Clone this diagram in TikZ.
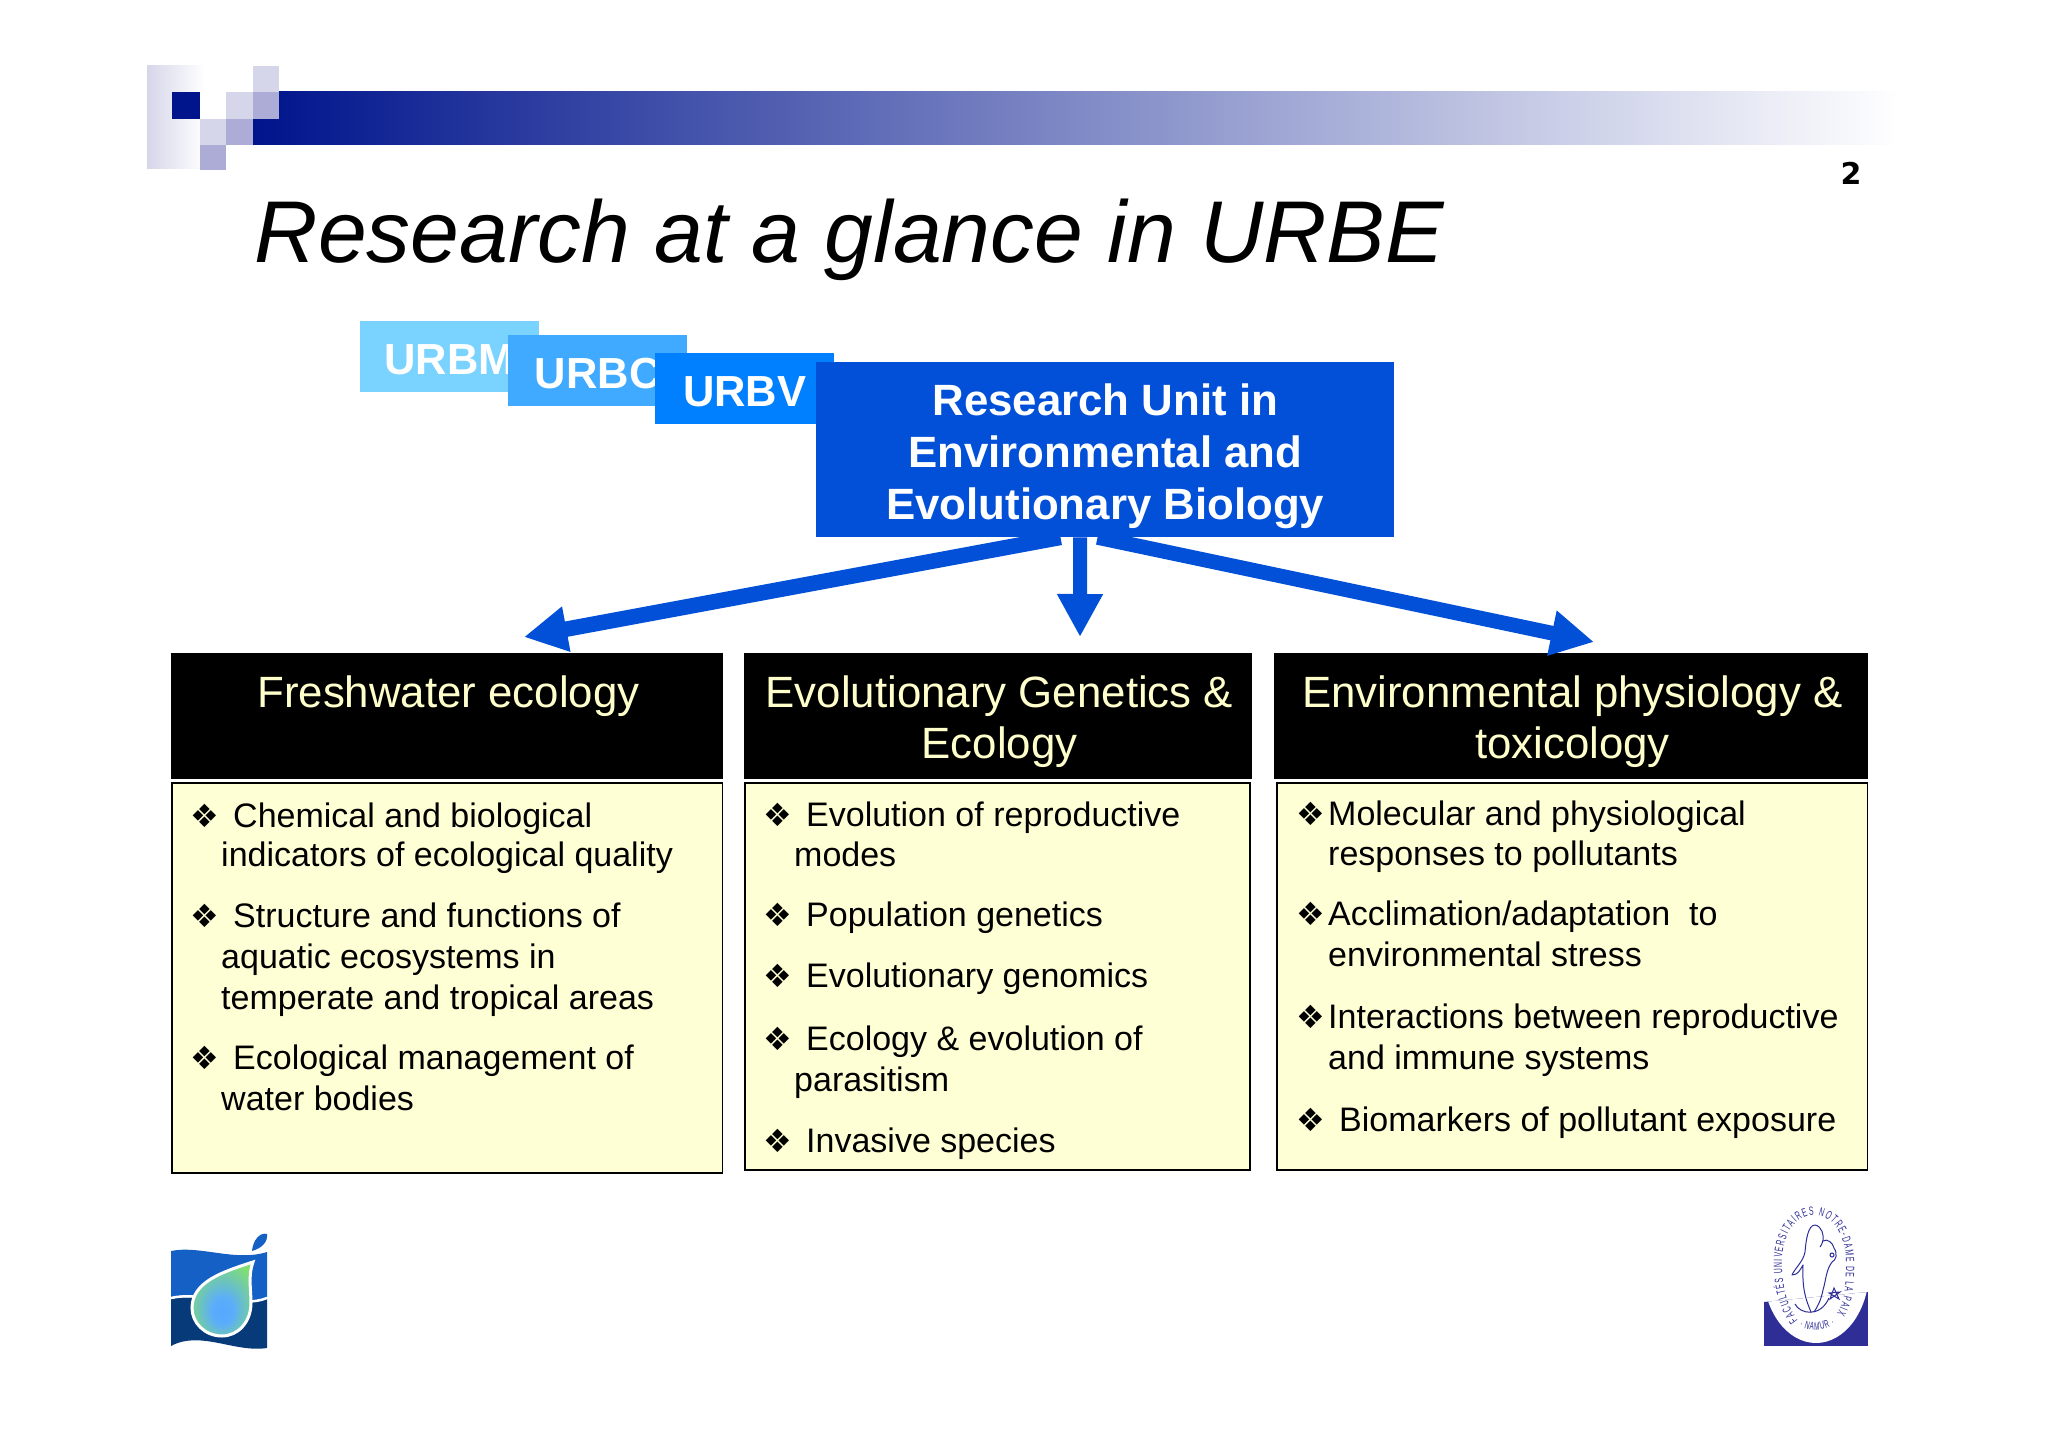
\documentclass[tikz,border=0pt]{standalone}
\usepackage{fontspec}
\setmainfont{Liberation Sans}
\newfontfamily\dejavu{DejaVu Sans}
\newfontfamily\sealfont[FakeStretch=0.58]{Liberation Sans}
\usepackage{tikz}
\usetikzlibrary{positioning, arrows.meta, decorations.text}
\definecolor{barblue}{RGB}{0,20,140}
\definecolor{palesq}{RGB}{214,214,234}
\definecolor{midsq}{RGB}{172,172,214}
\definecolor{urbmblue}{RGB}{122,211,255}
\definecolor{urbcblue}{RGB}{63,170,255}
\definecolor{urbvblue}{RGB}{0,128,255}
\definecolor{unitblue}{RGB}{2,80,216}
\definecolor{headcream}{RGB}{255,255,204}
\definecolor{listcream}{RGB}{255,255,214}
\definecolor{flagblue}{RGB}{21,96,196}
\definecolor{flagdark}{RGB}{7,58,120}
\definecolor{sealblue}{RGB}{46,46,150}
\pgfdeclareradialshading{dropshade}{\pgfpoint{0bp}{-10bp}}{rgb(0bp)=(0.33,0.66,1); rgb(9bp)=(0.36,0.68,0.98); rgb(30bp)=(0.5,0.87,0.45); rgb(50bp)=(0.5,0.87,0.45)}
\newcommand{\bul}[1]{\makebox[#1pt][l]{\hspace*{-1pt}\dejavu\fontsize{32}{32}\selectfont ❖}}
\newcommand{\hang}[1]{\hspace*{#1pt}}
\newcommand{\headtop}{\rule{0pt}{42pt}\hspace*{2.5pt}}
\newcommand{\headbot}{\rule[-9pt]{0pt}{0pt}\hspace*{2.5pt}}
\tikzset{
    urbbox/.style={anchor=north west, minimum width=179pt, minimum height=71pt, inner sep=0pt,
        text=white, text height=36pt, text depth=0pt, font=\fontsize{43.5}{43.5}\selectfont\bfseries},
    headbox/.style={anchor=north west, fill=black, text=headcream, minimum height=126pt, inner sep=0pt,
        align=center, font=\fontsize{43.8}{51}\selectfont},
    listbox/.style={anchor=north west, draw=black, line width=1.5pt, fill=listcream, inner sep=0pt},
    itemtext/.style={anchor=base west, inner sep=0pt, align=left, font=\fontsize{34}{41}\selectfont},
    bigarrow/.style={draw=unitblue, line width=#1, -{Triangle[length=43pt, width=43pt, fill=unitblue]}},
}
\begin{document}
\begin{tikzpicture}[x=1pt, y=-1pt]
    \useasboundingbox (0,0) rectangle (2048,1447);
    \fill[white] (0,0) rectangle (2048,1447);

    % Title band and squares
    \fill[left color=barblue, right color=white] (253,92) rectangle (1900,145);
    \fill[left color=palesq, right color=white] (147,66) rectangle (205,169);
    \fill[white] (200,92) rectangle (253,119);
    \fill[barblue] (172,92) rectangle (200,119);
    \fill[palesq] (226,92) rectangle (253,119);
    \fill[palesq] (253,66) rectangle (279,92);
    \fill[midsq] (253,92) rectangle (279,119);
    \fill[palesq] (200,119) rectangle (226,145);
    \fill[midsq] (226,119) rectangle (253,145);
    \fill[midsq] (200,145) rectangle (226,170);

    \node[anchor=base, inner sep=0pt, font=\dejavu\bfseries\fontsize{30}{30}\selectfont] (pagenum) at (1851,185) {2};
    \node[anchor=base west, inner sep=0pt, font=\fontsize{87.7}{88}\selectfont\itshape] (title) at (254.5,263) {Research at a glance in URBE};

    % Units
    \node[urbbox, fill=urbmblue] (urbm) at (360,321) {URBM};
    \node[urbbox, fill=urbcblue] (urbc) at (508,335) {URBC};
    \node[urbbox, fill=urbvblue] (urbv) at (655,353) {URBV};
    \node[anchor=north west, fill=unitblue, text=white, minimum width=578pt, minimum height=175pt, inner sep=0pt,
        align=center, font=\fontsize{43.8}{52}\selectfont\bfseries] (unit) at (816,362)
        {\rule{0pt}{44pt}Research Unit in\\Environmental and\\Evolutionary Biology};

    % Column heads
    \node[headbox, minimum width=552pt] (freshhead) at (171,653) {\headtop Freshwater ecology\\\headbot\mbox{}};
    \node[headbox, minimum width=508pt] (evolhead) at (744,653) {\headtop Evolutionary Genetics \&\\\headbot Ecology};
    \node[headbox, minimum width=594pt] (envhead) at (1274,653) {\headtop Environmental physiology \&\\\headbot toxicology};

    % Arrows
    \coordinate (freshtip) at (524,637);
    \coordinate (evoltip) at (1080,637);
    \coordinate (envtip) at (1594,642);
    \draw[bigarrow=15.5pt] (unit.243.3) -- (freshtip);
    \draw[bigarrow=14pt] (unit.254) -- (evoltip);
    \draw[bigarrow=14.7pt] (unit.265.4) -- (envtip);

    % Lists
    \node[listbox, minimum width=550.5pt, minimum height=390pt] (freshlist) at (171,782) {};
    \node[listbox, minimum width=505pt, minimum height=387pt] (evollist) at (744,782) {};
    \node[listbox, minimum width=590.5pt, minimum height=387pt] (envlist) at (1276,782) {};

    \node[itemtext] (freshone) at (191,866) {\bul{42}Chemical and biological\\[-2pt]\hang{30}indicators of ecological quality};
    \node[itemtext] (freshtwo) at (191,1009) {\bul{42}Structure and functions of\\\hang{30}aquatic ecosystems in\\\hang{30}temperate and tropical areas};
    \node[itemtext] (freshthree) at (191,1110) {\bul{42}Ecological management of\\\hang{30}water bodies};

    \node[itemtext] (evolone) at (764,866) {\bul{42}Evolution of reproductive\\[-1.5pt]\hang{30}modes};
    \node[itemtext] (evoltwo) at (764,926) {\bul{42}Population genetics};
    \node[itemtext] (evolthree) at (764,987) {\bul{42}Evolutionary genomics};
    \node[itemtext] (evolfour) at (764,1091) {\bul{42}Ecology \& evolution of\\\hang{30}parasitism};
    \node[itemtext] (evolfive) at (764,1152) {\bul{42}Invasive species};

    \node[itemtext] (envone) at (1297,865) {\bul{31}Molecular and physiological\\[-1.5pt]\hang{31}responses to pollutants};
    \node[itemtext] (envtwo) at (1297,966) {\bul{31}Acclimation/adaptation\ \ to\\\hang{31}environmental stress};
    \node[itemtext] (envthree) at (1297,1069) {\bul{31}Interactions between reproductive\\\hang{31}and immune systems};
    \node[itemtext] (envfour) at (1297,1131) {\bul{42}Biomarkers of pollutant exposure};

    % Left logo
    \fill[flagblue] (171,1251) .. controls (200,1245) and (235,1262) .. (267,1252) -- (267,1297)
        .. controls (240,1308) and (200,1290) .. (171,1297) -- cycle;
    \fill[flagdark] (171,1299) .. controls (200,1292) and (240,1310) .. (267,1299) -- (267,1348)
        .. controls (235,1353) and (200,1330) .. (171,1346) -- cycle;
    \draw[white, line width=2.5pt] (171,1298) .. controls (200,1291) and (240,1309) .. (267,1298);
    \path[draw=white, line width=3pt, shading=dropshade]
        (253,1262) .. controls (248,1275) and (251,1290) .. (251,1303)
        .. controls (251,1322) and (238,1336) .. (222,1336)
        .. controls (205,1336) and (192,1323) .. (192,1308)
        .. controls (192,1282) and (222,1272) .. (253,1262) -- cycle;
    \fill[flagblue] (252,1251) .. controls (253,1240) and (260,1232) .. (267,1234)
        .. controls (268,1242) and (262,1248) .. (252,1251) -- cycle;

    % Right logo
    \begin{scope}
        \clip (1764,1302) -- (1868,1292) -- (1868,1346) -- (1764,1346) -- cycle;
        \fill[sealblue] (1764,1280) rectangle (1868,1346);
        \fill[white] (1816,1270) ellipse (53 and 73);
    \end{scope}
    \path[decorate, decoration={text along path, text align=fit to path,
        text={|\sealfont\fontsize{12}{12}\selectfont\color{sealblue}|FACULTÉS UNIVERSITAIRES NOTRE-DAME DE LA PAIX}}]
        (1798,1320) .. controls (1786,1305) and (1782,1285) .. (1782,1262)
        .. controls (1782,1235) and (1796,1215) .. (1814,1215)
        .. controls (1832,1215) and (1846,1235) .. (1846,1262)
        .. controls (1846,1285) and (1845,1300) .. (1837,1314);
    \path[decorate, decoration={text along path, text align=fit to path,
        text={|\sealfont\fontsize{11}{11}\selectfont\color{sealblue}|· NAMUR ·}}]
        (1799,1326) .. controls (1810,1332) and (1824,1332) .. (1835,1324);
    \draw[sealblue, line width=1pt, line join=round] (1811,1312) .. controls (1806,1300) and (1802,1290) .. (1803,1265)
        .. controls (1800,1270) and (1798,1275) .. (1792,1275) .. controls (1795,1268) and (1803,1262) .. (1805,1252)
        .. controls (1806,1240) and (1808,1225) .. (1815,1225) .. controls (1822,1226) and (1824,1236) .. (1823,1240)
        .. controls (1822,1244) and (1821,1246) .. (1820,1247);
    \draw[sealblue, line width=1pt, line join=round] (1823,1241) .. controls (1827,1238) and (1833,1243) .. (1834,1248)
        .. controls (1838,1254) and (1836,1260) .. (1832,1262) .. controls (1826,1270) and (1826,1280) .. (1823,1290)
        .. controls (1821,1300) and (1818,1306) .. (1814,1312);
    \draw[sealblue, line width=1pt] (1832,1255) circle (2);
    \draw[sealblue, line width=1pt] (1795,1304) .. controls (1800,1314) and (1820,1318) .. (1829,1298);
    \draw[sealblue, line width=1pt] (1834,1288) -- (1839,1299) -- (1829,1293) -- (1840,1292) -- (1830,1299) -- cycle;
\end{tikzpicture}
\end{document}
